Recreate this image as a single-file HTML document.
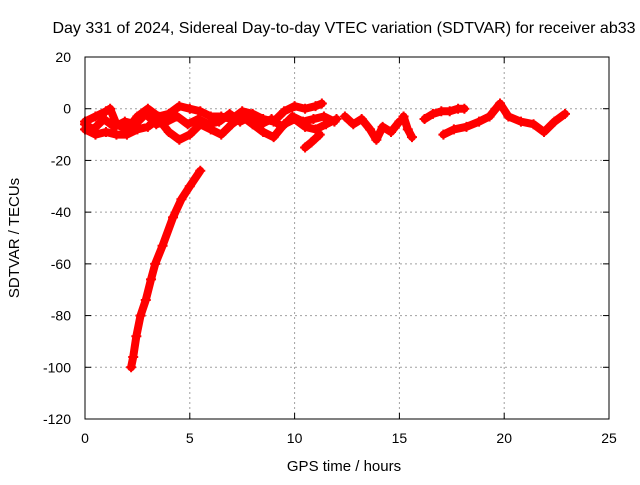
<!DOCTYPE html>
<html><head><meta charset="utf-8"><style>
body{margin:0;background:#fff}
svg text{font-family:"Liberation Sans",sans-serif;font-size:14px;fill:#000}
</style></head><body>
<svg id="chart" width="640" height="480">
<rect width="640" height="480" fill="#fff"/>
<text x="344" y="33" text-anchor="middle" style="font-size:16px">Day 331 of 2024, Sidereal Day-to-day VTEC variation (SDTVAR) for receiver ab33</text>
<g id="grid"></g>
<g id="ticks"></g>
<g id="series"></g>
<rect x="85" y="57" width="524" height="362" fill="none" stroke="#000" stroke-width="1"/>
<text x="344" y="471" text-anchor="middle" style="font-size:15px">GPS time / hours</text>
<text transform="translate(19,238) rotate(-90)" text-anchor="middle" style="font-size:15px">SDTVAR / TECUs</text>
</svg>
<script>
const xTicks=[0,5,10,15,20,25];
const yTicks=[20,0,-20,-40,-60,-80,-100,-120];
const traceUpperX=[0,0.5,1,1.2,1.5,2,2.5,3,3.5,4,4.5,5,5.5,6,6.5,7,7.5,8,8.5,9,9.5,10,10.5,11,11.3];
const traceUpperY=[-5,-3,-1,0,-6,-8,-3,0,-3,-2,1,0,-1,-3,-3,-4,-1,-2,-4,-5,-1,1,0,1,2];
const traceMidX=[0,0.4,0.9,1.4,1.9,2.4,2.9,3.4,3.9,4.4,4.9,5.4,5.9,6.4,6.9,7.4,7.9,8.4,8.9,9.4,9.9,10.4,10.9,11.4,11.9];
const traceMidY=[-6,-8,-4,-7,-5,-6,-2,-6,-5,-3,-6,-4,-6,-5,-2,-5,-3,-6,-4,-7,-3,-5,-4,-3,-5];
const traceLowerX=[0,0.5,1,1.5,2,2.5,3,3.5,4,4.5,5,5.5,6,6.5,7,7.5,8,8.5,9,9.5,10,10.5,11,11.5,12];
const traceLowerY=[-8,-10,-9,-10,-10,-8,-7,-4,-9,-12,-10,-6,-8,-10,-6,-3,-6,-9,-11,-6,-4,-7,-8,-6,-4];
const shortX=[10.5,10.8,11.2];
const shortY=[-15,-13,-10];
const clusterAX=[12.4,12.8,13.2,13.6,13.9,14.2,14.6,15.0];
const clusterAY=[-3,-6,-4,-8,-12,-7,-9,-5];
const clusterBX=[15.2,15.4,15.6];
const clusterBY=[-3,-8,-11];
const clusterCX=[16.2,16.6,17.0,17.4,17.8,18.1];
const clusterCY=[-4,-2,-1,-1,0,0];
const longX=[17.1,17.6,18.2,18.8,19.3,19.6,19.8,20.2,20.8,21.4,21.9,22.4,22.9];
const longY=[-10,-8,-7,-5,-3,0,2,-3,-5,-6,-9,-5,-2];
const steepX=[2.2,2.3,2.45,2.65,2.9,3.15,3.35,3.7,4.2,4.6,5.0,5.5];
const steepY=[-100,-96,-88,-80,-74,-66,-60,-53,-42,-35,-30,-24];

const NS="http://www.w3.org/2000/svg";
const X0=85,X1=609,Y0=57,Y1=419;
const sx=h=>X0+(h-0)/25*(X1-X0);
const sy=v=>Y0+(20-v)/140*(Y1-Y0);
const grid=document.getElementById('grid'),ticks=document.getElementById('ticks'),series=document.getElementById('series');
function mk(tag,attrs,parent){const e=document.createElementNS(NS,tag);for(const k in attrs)e.setAttribute(k,attrs[k]);parent.appendChild(e);return e;}
xTicks.forEach(t=>{
  const x=sx(t);
  if(t>0&&t<25){const g=mk('line',{x1:x,x2:x,y1:Y0,y2:Y1,stroke:'#a0a0a0','stroke-dasharray':'2,3'},grid);
  
  }
  mk('line',{x1:x,x2:x,y1:Y1,y2:Y1-6,stroke:'#000'},ticks);
  mk('line',{x1:x,x2:x,y1:Y0,y2:Y0+6,stroke:'#000'},ticks);
  const tx=mk('text',{x:x,y:443,'text-anchor':'middle'},ticks);tx.textContent=t;
  
  
});
yTicks.forEach(t=>{
  const y=sy(t);
  if(t<20&&t>-120){const g=mk('line',{x1:X0,x2:X1,y1:y,y2:y,stroke:'#a0a0a0','stroke-dasharray':'2,3'},grid);
  
  }
  mk('line',{x1:X0,x2:X0+6,y1:y,y2:y,stroke:'#000'},ticks);
  mk('line',{x1:X1,x2:X1-6,y1:y,y2:y,stroke:'#000'},ticks);
  const tx=mk('text',{x:71,y:y+5,'text-anchor':'end'},ticks);tx.textContent=t;
  
  
});
function trace(xs,ys,name){
  const pts=xs.map((h,i)=>sx(h)+','+sy(ys[i])).join(' ');
  const pl=mk('polyline',{points:pts,fill:'none',stroke:'#ff0000','stroke-width':8,'stroke-linejoin':'round','stroke-linecap':'round'},series);
  
  
  xs.forEach((h,i)=>{const x=sx(h),y=sy(ys[i]);
    const p=mk('path',{d:`M${x-5},${y}h10M${x},${y-5}v10`,stroke:'#ff0000','stroke-width':2},series);
    
    });
}
trace(traceUpperX,traceUpperY,'trace-upper');
trace(traceMidX,traceMidY,'trace-middle');
trace(traceLowerX,traceLowerY,'trace-lower');
trace(shortX,shortY,'trace-short');
trace(clusterAX,clusterAY,'trace-cluster-a');
trace(clusterBX,clusterBY,'trace-cluster-b');
trace(clusterCX,clusterCY,'trace-cluster-c');
trace(longX,longY,'trace-long');
trace(steepX,steepY,'trace-steep');
</script>
</body></html>
